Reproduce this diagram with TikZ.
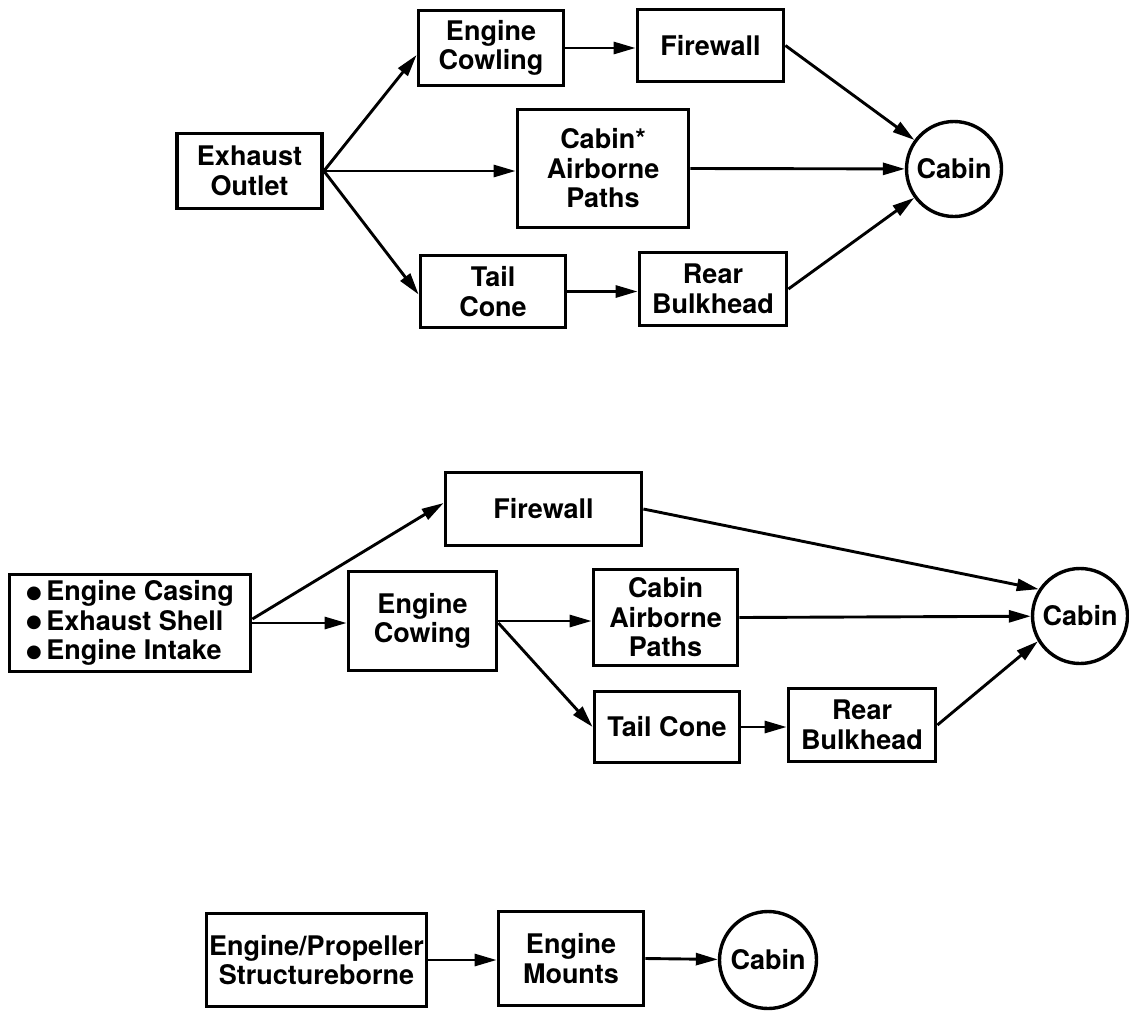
\documentclass[tikz,border=0pt]{standalone}
\usepackage{fontspec}
\setmainfont{TeX Gyre Heros}
\newfontfamily\symfont{DejaVu Sans}
\usetikzlibrary{arrows.meta,calc}
\newcommand\diagfont{\fontsize{27}{29.5}\selectfont\bfseries}
\newcommand\bigbullet{\raisebox{2.5pt}{\symfont\fontsize{18}{18}\selectfont ●}}
\begin{document}
\begin{tikzpicture}[x=1pt,y=-1pt,
  box/.style={draw,line width=3.8pt,inner sep=0pt,align=center,font=\diagfont},
  hub/.style={draw,circle,line width=3.4pt,inner sep=0pt,minimum size=95pt,font=\diagfont},
  conn/.style={line width=2.9pt,-{Triangle[length=22pt,width=12pt]}}]
\fill[white] (0,0) rectangle (1129,1012);
\useasboundingbox (0,0) rectangle (1129,1012);

% ---------- top diagram ----------
\node[box,minimum width=145pt,minimum height=75pt] (eo)  at (249.5,171) {Exhaust\\Outlet};
\node[box,minimum width=145pt,minimum height=75pt] (ec1) at (491,48) {Engine\\Cowling};
\node[box,minimum width=146pt,minimum height=72pt] (fw1) at (710.5,45.5) {Firewall};
\node[box,minimum width=171pt,minimum height=118pt] (cap1) at (603,168.5) {Cabin*\\Airborne\\Paths};
\node[box,minimum width=145pt,minimum height=72pt] (tc1) at (493,291.5) {Tail\\Cone};
\node[box,minimum width=147pt,minimum height=73pt] (rb1) at (713,289) {Rear\\Bulkhead};
\node[hub] (cab1) at (954,169) {Cabin};

\draw[conn] (eo.east) -- ([yshift=-7pt]ec1.west);
\draw[conn] (eo.east) -- (eo.east -| cap1.west);
\draw[conn] (eo.east) -- ([yshift=-3pt]tc1.west);
\draw[conn] (ec1.east) -- (ec1.east -| fw1.west);
\draw[conn] (tc1.east) -- (tc1.east -| rb1.west);
\draw[conn] (fw1.east) -- (cab1);
\draw[conn] (cap1.east) -- (cab1);
\draw[conn] (rb1.east) -- (cab1);

% ---------- middle diagram ----------
\node[box,minimum width=241pt,minimum height=97pt,align=left] (bl) at (130,623)
  {\bigbullet\,Engine Casing\\\bigbullet\,Exhaust Shell\\\bigbullet\,Engine Intake};
\node[box,minimum width=148pt,minimum height=99pt] (ec2) at (422.5,621) {Engine\\Cowing};
\node[box,minimum width=196pt,minimum height=73pt] (fw2) at (543.5,509) {Firewall};
\node[box,minimum width=144pt,minimum height=96pt] (cap2) at (665.5,617.5) {Cabin\\Airborne\\Paths};
\node[box,minimum width=145pt,minimum height=71pt] (tc2) at (667,727) {Tail Cone};
\node[box,minimum width=147pt,minimum height=73pt] (rb2) at (862,725) {Rear\\Bulkhead};
\node[hub] (cab2) at (1080,616) {Cabin};

\draw[conn] (bl.east) -- (bl.east -| ec2.west);
\draw[conn] ([yshift=4pt]bl.east) -- ([yshift=6pt]fw2.west);
\draw[conn] (ec2.east) -- (ec2.east -| cap2.west);
\draw[conn] ([yshift=-2pt]ec2.east) -- (tc2.west);
\draw[conn] (tc2.east) -- (tc2.east -| rb2.west);
\draw[conn] (fw2.east) -- (cab2.147);
\draw[conn] (cap2.east) -- (cab2);
\draw[conn] (rb2.east) -- (cab2.211);

% ---------- bottom diagram ----------
\node[box,minimum width=220pt,minimum height=93pt] (ep) at (316.5,960) {Engine/Propeller\\Structureborne};
\node[box,minimum width=145pt,minimum height=94pt] (em) at (571,958.5) {Engine\\Mounts};
\node[hub,minimum size=97pt] (cab3) at (768,960) {Cabin};

\draw[conn] (ep.east) -- (ep.east -| em.west);
\draw[conn] (em.east) -- (cab3);
\end{tikzpicture}
\end{document}
